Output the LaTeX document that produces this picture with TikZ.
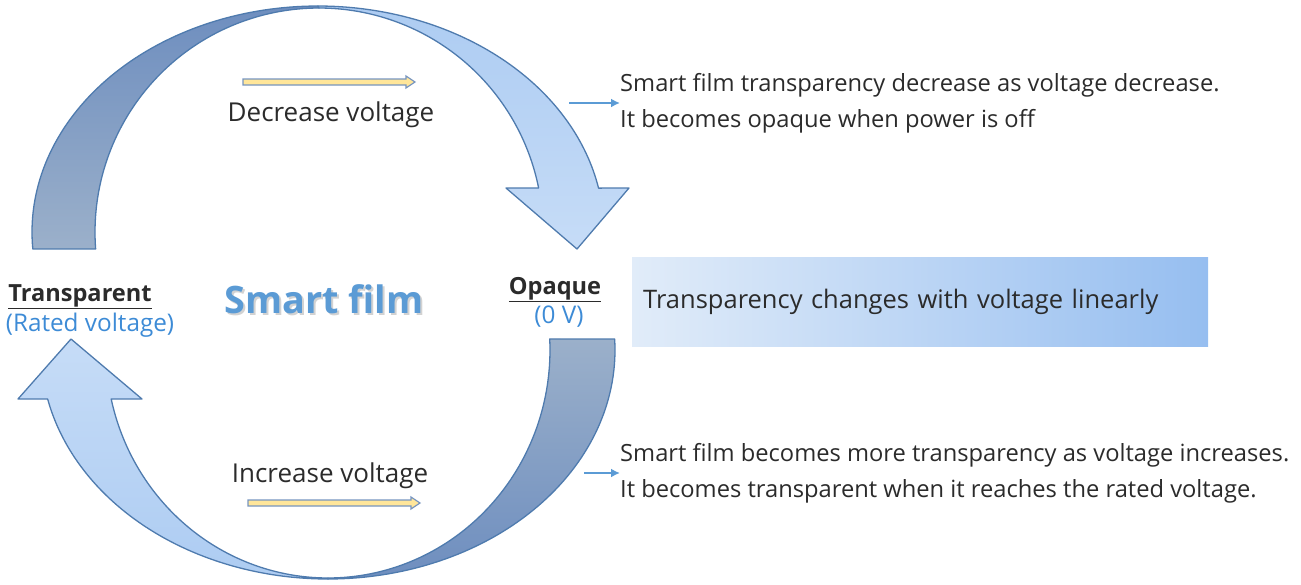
\documentclass[tikz,border=0pt]{standalone}
\usepackage{fontspec}
\setmainfont{Open Sans}
\usetikzlibrary{arrows.meta}
\definecolor{outl}{HTML}{4F7BAE}
\definecolor{darkA}{HTML}{6E8EBF}
\definecolor{darkB}{HTML}{9BB0CA}
\definecolor{lightA}{HTML}{ADCCF2}
\definecolor{lightB}{HTML}{C6DCF7}
\definecolor{txt}{HTML}{2B2B2B}
\definecolor{blu}{HTML}{3D8BD6}
\definecolor{sfblue}{HTML}{5B9BD5}
\definecolor{boxL}{HTML}{E1ECF9}
\definecolor{boxR}{HTML}{96BEF0}
\definecolor{yel}{HTML}{FFE69A}
\definecolor{yelout}{HTML}{7795C0}
\definecolor{pointer}{HTML}{5B9BD5}
\begin{document}
\begin{tikzpicture}[x=1pt,y=-1pt,
  band/.style={draw=outl, line width=1.3pt, line join=round},
  lbl/.style={inner sep=0pt, text=txt, font=\fontsize{26}{36}\selectfont},
  side/.style={inner sep=0pt, text=txt, font=\fontsize{23.7}{36}\selectfont, align=left, anchor=west},
  state/.style={inner sep=0pt, text=txt, font=\bfseries\fontsize{23.6}{26}\selectfont},
  sub/.style={inner sep=0pt, text=blu, font=\fontsize{24.3}{26}\selectfont},
  yarrow/.style={draw=yelout, fill=yel, line width=1.2pt, line join=miter},
  barrow/.style={draw=pointer, line width=1.8pt, -{Latex[length=9pt,width=9pt]}},
  gbox/.style={left color=boxL, right color=boxR, draw=none, minimum height=89pt, text width=554pt, inner xsep=11pt, align=left, text=txt, font=\fontsize{25.5}{30}\selectfont}
]
\useasboundingbox (0,0) rectangle (1301,584);

% upper curved arrow: back band
\path[band, top color=darkA, bottom color=darkB]
  plot[domain=184.3:90, samples=70] ({318+286*cos(\x)},{232-226*sin(\x)})
  -- plot[domain=90:184.35, samples=70] ({319+224*cos(\x)},{232-224*sin(\x)}) -- cycle;
% upper curved arrow: front band with head
\path[band, top color=lightA, bottom color=lightB]
  plot[domain=90:11.2, samples=70] ({318+286*cos(\x)},{232-226*sin(\x)})
  -- (629,188) -- (577,249) -- (506,188)
  -- plot[domain=11.33:90, samples=70] ({319+224*cos(\x)},{232-224*sin(\x)}) -- cycle;

% lower curved arrow: back band
\path[band, top color=darkB, bottom color=darkA]
  plot[domain=90:-2.77, samples=70] ({328+222*cos(\x)},{350+228*sin(\x)})
  -- plot[domain=-2.75:90, samples=70] ({328+287*cos(\x)},{350+229*sin(\x)}) -- cycle;
% lower curved arrow: front band with head
\path[band, top color=lightB, bottom color=lightA]
  plot[domain=90:167.64, samples=70] ({328+287*cos(\x)},{350+229*sin(\x)})
  -- (18,399) -- (71,339) -- (142,399)
  -- plot[domain=167.59:90, samples=70] ({328+222*cos(\x)},{350+228*sin(\x)}) -- cycle;

% yellow block arrows
\draw[yarrow] (243,79) -- (406,79) -- (406,76) -- (415,82) -- (406,88) -- (406,85) -- (243,85) -- cycle;
\draw[yarrow] (248,500) -- (411,500) -- (411,497) -- (420,503) -- (411,509) -- (411,506) -- (248,506) -- cycle;

% labels
\node[lbl, anchor=base] (dec) at (331,121) {Decrease voltage};
\node[lbl, anchor=base] (inc) at (330,482) {Increase voltage};

\node[state, anchor=base] (tr) at (80,301) {\underline{Transparent}};
\node[sub, anchor=base] (rv) at (90,331) {(Rated voltage)};
\node[state, anchor=base] (op) at (555,294) {\underline{Opaque}};
\node[sub, anchor=base] (zv) at (559,323) {(0 V)};

\node[inner sep=0pt, anchor=base, text=gray!35, font=\bfseries\fontsize{37.8}{40}\selectfont] (sfs) at (326,315) {Smart film};
\node[inner sep=0pt, anchor=base, text=sfblue, font=\bfseries\fontsize{37.8}{40}\selectfont] (sf) at (324,313) {Smart film};

\node[gbox, anchor=west] (box) at (632,301.5) {Transparency changes with voltage linearly};

\node[side] (t1) at (620,103) {Smart film transparency decrease as voltage decrease.\\It becomes opaque when power is off};
\node[side] (t2) at (620,473) {Smart film becomes more transparency as voltage increases.\\It becomes transparent when it reaches the rated voltage.};

\coordinate (p1) at (569,103);
\coordinate (p2) at (584,473);
\draw[barrow] (p1) -- (t1.west);
\draw[barrow] (p2) -- (t2.west);
\end{tikzpicture}
\end{document}
